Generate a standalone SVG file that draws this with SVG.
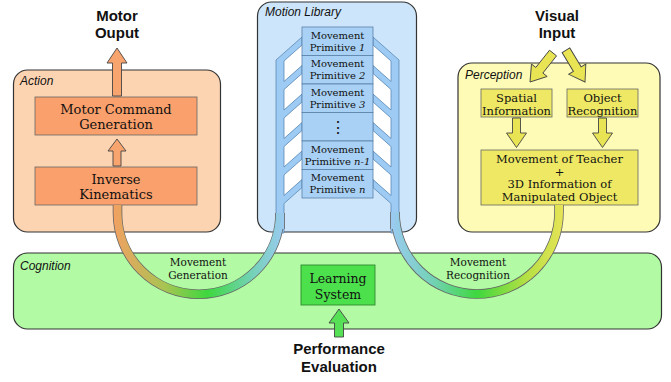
<svg xmlns="http://www.w3.org/2000/svg" width="671" height="382" viewBox="0 0 671 382">
<defs>
<linearGradient id="gGen" gradientUnits="userSpaceOnUse" x1="113" y1="0" x2="285" y2="0">
<stop offset="0" stop-color="#F3A062"/><stop offset="0.3" stop-color="#A8C452"/><stop offset="0.55" stop-color="#3ED83E"/><stop offset="0.8" stop-color="#72D2B4"/><stop offset="1" stop-color="#9CCAF3"/>
</linearGradient>
<linearGradient id="gRec" gradientUnits="userSpaceOnUse" x1="390" y1="0" x2="564" y2="0">
<stop offset="0" stop-color="#9CCAF3"/><stop offset="0.25" stop-color="#72D2B4"/><stop offset="0.5" stop-color="#3ED83E"/><stop offset="0.78" stop-color="#B4E044"/><stop offset="1" stop-color="#E8E456"/>
</linearGradient>
</defs>
<style>
.panel{stroke:#333;stroke-width:1.2}
.box{stroke:#666;stroke-width:0.8}
.lbl{font-family:"Liberation Sans",Arial,sans-serif;font-style:italic;font-size:12px;fill:#111}
.big{font-family:"Liberation Sans",Arial,sans-serif;font-weight:bold;font-size:15px;fill:#111;text-anchor:middle}
.srf{font-family:"DejaVu Serif",serif;fill:#111;text-anchor:middle}
.it{font-style:italic}
.oarr{fill:#F8A46E;stroke:#444;stroke-width:0.9}
.yarr{fill:#E9E454;stroke:#444;stroke-width:0.9}
.garr{fill:#55E055;stroke:#444;stroke-width:0.9}
.rail{fill:#9ECBF3;stroke:#5a88b4;stroke-width:0.8}
.gap{fill:#ffffff}
.prim{fill:#A9D1F5;stroke:#5a80a8;stroke-width:0.8}
.uo{fill:none;stroke:#666;stroke-width:9.6}
</style>

<g id="cognition">
<rect class="panel" x="13.5" y="253" width="648" height="76" rx="14" fill="#B2FBA4"/>
<text class="lbl" x="20" y="270">Cognition</text>
</g>
<g id="learning-system">
<rect x="301" y="265" width="74" height="40" fill="#4CE04C" stroke="#2f8a2f" stroke-width="0.9"/>
<text class="srf" x="338" y="283" font-size="12.5">Learning</text>
<text class="srf" x="338" y="299" font-size="12.5">System</text>
</g>

<g id="action">
<rect class="panel" x="13.5" y="70" width="207" height="162" rx="14" fill="#FDD4B1"/>
<text class="lbl" x="20" y="85">Action</text>
</g>
<g id="motor-command">
<rect class="box" x="35" y="97" width="162" height="38" fill="#F9A06C"/>
<text class="srf" x="116" y="114" font-size="13">Motor Command</text>
<text class="srf" x="116" y="129" font-size="13">Generation</text>
</g>
<g id="inverse-kinematics">
<rect class="box" x="35" y="167" width="162" height="38" fill="#F9A06C"/>
<text class="srf" x="116" y="184" font-size="13">Inverse</text>
<text class="srf" x="116" y="199" font-size="13">Kinematics</text>
</g>

<g id="perception">
<rect class="panel" x="458" y="63" width="202" height="169" rx="14" fill="#FEFBB6"/>
<text class="lbl" x="465" y="79">Perception</text>
</g>
<g id="spatial-information">
<rect class="box" x="481" y="89" width="71" height="28" fill="#EEE864"/>
<text class="srf" x="516.5" y="101.5" font-size="11.5">Spatial</text>
<text class="srf" x="516.5" y="114.5" font-size="11.5">Information</text>
</g>
<g id="object-recognition">
<rect class="box" x="567" y="89" width="71" height="28" fill="#EEE864"/>
<text class="srf" x="602.5" y="101.5" font-size="11.5">Object</text>
<text class="srf" x="602.5" y="114.5" font-size="11.5">Recognition</text>
</g>
<g id="teacher-object">
<rect class="box" x="481" y="150" width="157" height="55" fill="#EEE864"/>
<text class="srf" x="559.5" y="163" font-size="11.5">Movement of Teacher</text>
<text class="srf" x="559.5" y="175.5" font-size="11.5">+</text>
<text class="srf" x="559.5" y="188" font-size="11.5">3D Information of</text>
<text class="srf" x="559.5" y="201" font-size="11.5">Manipulated Object</text>
</g>

<g id="motion-library">
<rect class="panel" x="257.5" y="2" width="159" height="230" rx="14" fill="#CDE5FA"/>
<text class="lbl" x="265" y="16">Motion Library</text>
<polygon class="gap" points="284,61 302,45 302,65.5 284,81.5"/>
<polygon class="gap" points="284,89.5 302,73.5 302,94 284,110"/>
<polygon class="gap" points="284,118 302,102 302,122.5 284,138.5"/>
<polygon class="gap" points="284,146.5 302,130.5 302,151 284,167"/>
<polygon class="gap" points="284,175 302,159 302,179.5 284,195.5"/>
<polygon class="gap" points="391,61 373,45 373,65.5 391,81.5"/>
<polygon class="gap" points="391,89.5 373,73.5 373,94 391,110"/>
<polygon class="gap" points="391,118 373,102 373,122.5 391,138.5"/>
<polygon class="gap" points="391,146.5 373,130.5 373,151 391,167"/>
<polygon class="gap" points="391,175 373,159 373,179.5 391,195.5"/>
<path class="rail" d="M276,233 L276,60 L302,37 L302,45 L284,61 L284,81.5 L302,65.5 L302,73.5 L284,89.5 L284,110 L302,94 L302,102 L284,118 L284,138.5 L302,122.5 L302,130.5 L284,146.5 L284,167 L302,151 L302,159 L284,175 L284,195.5 L302,179.5 L302,187.5 L284,203.5 L284,233 Z"/>
<path class="rail" d="M399,233 L399,60 L373,37 L373,45 L391,61 L391,81.5 L373,65.5 L373,73.5 L391,89.5 L391,110 L373,94 L373,102 L391,118 L391,138.5 L373,122.5 L373,130.5 L391,146.5 L391,167 L373,151 L373,159 L391,175 L391,195.5 L373,179.5 L373,187.5 L391,203.5 L391,233 Z"/>
</g>
<g id="primitive-1">
<rect class="prim" x="302" y="27" width="71" height="28.5"/>
<text class="srf" x="337.5" y="38.5" font-size="10">Movement</text>
<text class="srf" x="337.5" y="50.5" font-size="10">Primitive <tspan class="it">1</tspan></text>
</g>
<g id="primitive-2">
<rect class="prim" x="302" y="55.5" width="71" height="28.5"/>
<text class="srf" x="337.5" y="67" font-size="10">Movement</text>
<text class="srf" x="337.5" y="79" font-size="10">Primitive <tspan class="it">2</tspan></text>
</g>
<g id="primitive-3">
<rect class="prim" x="302" y="84" width="71" height="28.5"/>
<text class="srf" x="337.5" y="95.5" font-size="10">Movement</text>
<text class="srf" x="337.5" y="107.5" font-size="10">Primitive <tspan class="it">3</tspan></text>
</g>
<g id="primitive-dots">
<rect class="prim" x="302" y="112.5" width="71" height="28.5"/>
<text class="srf" x="337.5" y="133" font-size="16">⋮</text>
</g>
<g id="primitive-n-1">
<rect class="prim" x="302" y="141" width="71" height="28.5"/>
<text class="srf" x="337.5" y="152.5" font-size="10">Movement</text>
<text class="srf" x="337.5" y="164.5" font-size="10">Primitive <tspan class="it">n-1</tspan></text>
</g>
<g id="primitive-n">
<rect class="prim" x="302" y="169.5" width="71" height="28.5"/>
<text class="srf" x="337.5" y="181" font-size="10">Movement</text>
<text class="srf" x="337.5" y="193" font-size="10">Primitive <tspan class="it">n</tspan></text>
</g>

<g id="motor-output">
<text class="big" x="117" y="21">Motor</text>
<text class="big" x="117" y="38">Ouput</text>
</g>
<g id="visual-input">
<text class="big" x="557" y="21">Visual</text>
<text class="big" x="557" y="38">Input</text>
</g>
<g id="performance-evaluation">
<text class="big" x="339" y="354">Performance</text>
<text class="big" x="339" y="372">Evaluation</text>
</g>

<g id="connectors">
<path class="uo" d="M117.5,205 L117.5,213 A81.25,81.25 0 0 0 280,213 L280,229"/>
<path fill="none" stroke="url(#gGen)" stroke-width="8" d="M117.5,205 L117.5,213 A81.25,81.25 0 0 0 280,213 L280,229"/>
<path class="uo" d="M395,229 L395,212 A82,82 0 0 0 559,212 L559,205"/>
<path fill="none" stroke="url(#gRec)" stroke-width="8" d="M395,229 L395,212 A82,82 0 0 0 559,212 L559,205"/>
<text class="srf" x="198" y="266" font-size="10.5">Movement</text>
<text class="srf" x="198" y="278.5" font-size="10.5">Generation</text>
<text class="srf" x="478" y="266" font-size="10.5">Movement</text>
<text class="srf" x="478" y="278.5" font-size="10.5">Recognition</text>
<polygon class="oarr" points="117,48 127,63 121.5,63 121.5,96 112.5,96 112.5,63 107,63"/>
<polygon class="oarr" points="117,139 126,151 121,151 121,166 113,166 113,151 108,151"/>
<polygon class="yarr" points="516.5,147.5 526.5,133 520.5,133 520.5,118 512.5,118 512.5,133 506.5,133"/>
<polygon class="yarr" points="602.5,147.5 612.5,133 606.5,133 606.5,118 598.5,118 598.5,133 592.5,133"/>
<polygon class="yarr" transform="translate(530,82) rotate(38.5)" points="0,0 10,-15 4.5,-15 4.5,-37 -4.5,-37 -4.5,-15 -10,-15"/>
<polygon class="yarr" transform="translate(585,82) rotate(-31)" points="0,0 10,-15 4.5,-15 4.5,-37 -4.5,-37 -4.5,-15 -10,-15"/>
<polygon class="garr" points="339,309 349,323 343.5,323 343.5,337 334.5,337 334.5,323 329,323"/>
</g>
</svg>
